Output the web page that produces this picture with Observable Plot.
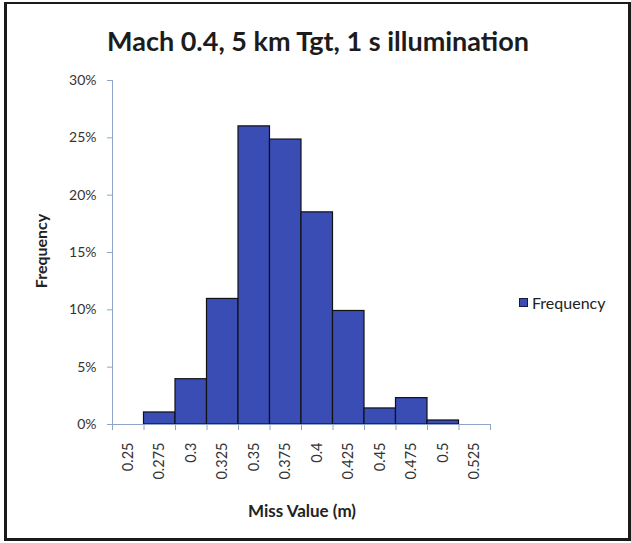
<!DOCTYPE html>
<html>
<head>
<meta charset="utf-8">
<script src="https://cdn.jsdelivr.net/npm/d3@7"></script>
<script src="https://cdn.jsdelivr.net/npm/@observablehq/plot@0.6"></script>
<style>
  html, body { margin: 0; padding: 0; background: #fff; }
  body { width: 631px; height: 543px; position: relative; overflow: hidden; font-family: Lato, "Open Sans", sans-serif; }
  #frame { position: absolute; left: 4px; top: 2px; width: 621px; height: 534px; border-left: 3px solid #1a1a1a; border-top: 2px solid #1a1a1a; border-right: 3px solid #1a1a1a; border-bottom: 3px solid #1a1a1a; }
  #title { position: absolute; left: 0; width: 636px; top: 24px; text-align: center; font-size: 27px; font-weight: bold; color: #1c1c1c; }
  #ylab { position: absolute; left: 40px; top: 251px; transform: translate(-50%, -50%) rotate(-90deg); font-size: 16px; font-weight: bold; color: #222; white-space: nowrap; }
  #xlab { position: absolute; left: 302px; top: 510px; transform: translate(-50%, -50%); font-size: 17px; font-weight: bold; color: #222; white-space: nowrap; }
  #legend { position: absolute; left: 519px; top: 293px; font-size: 16px; color: #222; display: flex; align-items: center; }
  #legend .sw { width: 7px; height: 7px; background: #3a4db4; border: 1px solid #1a1a3a; margin-right: 4px; }
  #chart { position: absolute; left: 0; top: 60px; }
</style>
</head>
<body>
<div id="frame"></div>
<div id="title">Mach 0.4, 5 km Tgt, 1 s illumination</div>
<div id="ylab">Frequency</div>
<div id="xlab">Miss Value (m)</div>
<div id="legend"><div class="sw"></div><span>Frequency</span></div>
<div id="chart"></div>
<script>
const categories = ["0.25", "0.275", "0.3", "0.325", "0.35", "0.375", "0.4", "0.425", "0.45", "0.475", "0.5", "0.525"];
const frequency = [0, 1.05, 3.95, 10.95, 26.0, 24.85, 18.5, 9.9, 1.4, 2.3, 0.35, 0];
const yTicks = [0, 5, 10, 15, 20, 25, 30];
const binWidth = 0.025;

const data = categories.map((c, i) => ({cat: c, x: +c, y: frequency[i]}));
const edges = categories.map(c => +c - binWidth / 2).concat([+categories[categories.length - 1] + binWidth / 2]);
const centers = categories.map(c => +c);

const axisColor = "#8fa4c6";
const textColor = "#333";

const chart = Plot.plot({
  width: 631,
  height: 470,
  marginLeft: 112,
  marginRight: 141,
  marginTop: 20,
  marginBottom: 106,
  style: { fontFamily: "Lato, 'Open Sans', sans-serif", fontSize: "14px", color: textColor, background: "transparent" },
  x: { type: "linear", domain: [edges[0], edges[edges.length - 1]], axis: null },
  y: { domain: [0, 30], axis: null },
  marks: [
    Plot.rectY(data.filter(d => d.y > 0), { x1: d => d.x - binWidth / 2, x2: d => d.x + binWidth / 2, y: "y", fill: "#3a4db4", stroke: "#111", strokeWidth: 1.2, inset: 0 }),
    Plot.ruleY([0], { stroke: axisColor, strokeWidth: 1 }),
    Plot.ruleX([edges[0]], { stroke: axisColor, strokeWidth: 1 }),
    Plot.axisY({ ticks: yTicks, tickFormat: d => d + "%", tickSize: 5, tickPadding: 11, stroke: axisColor, color: textColor, label: null, fontSize: 14 }),
    Plot.axisX({ ticks: edges, tickFormat: () => "", tickSize: 6, stroke: axisColor, label: null }),
    Plot.axisX({ ticks: centers, tickFormat: (d, i) => categories[i], tickSize: 0, tickPadding: 18, tickRotate: -90, color: textColor, label: null, fontSize: 14.5 })
  ]
});
document.getElementById("chart").appendChild(chart);
</script>
</body>
</html>
